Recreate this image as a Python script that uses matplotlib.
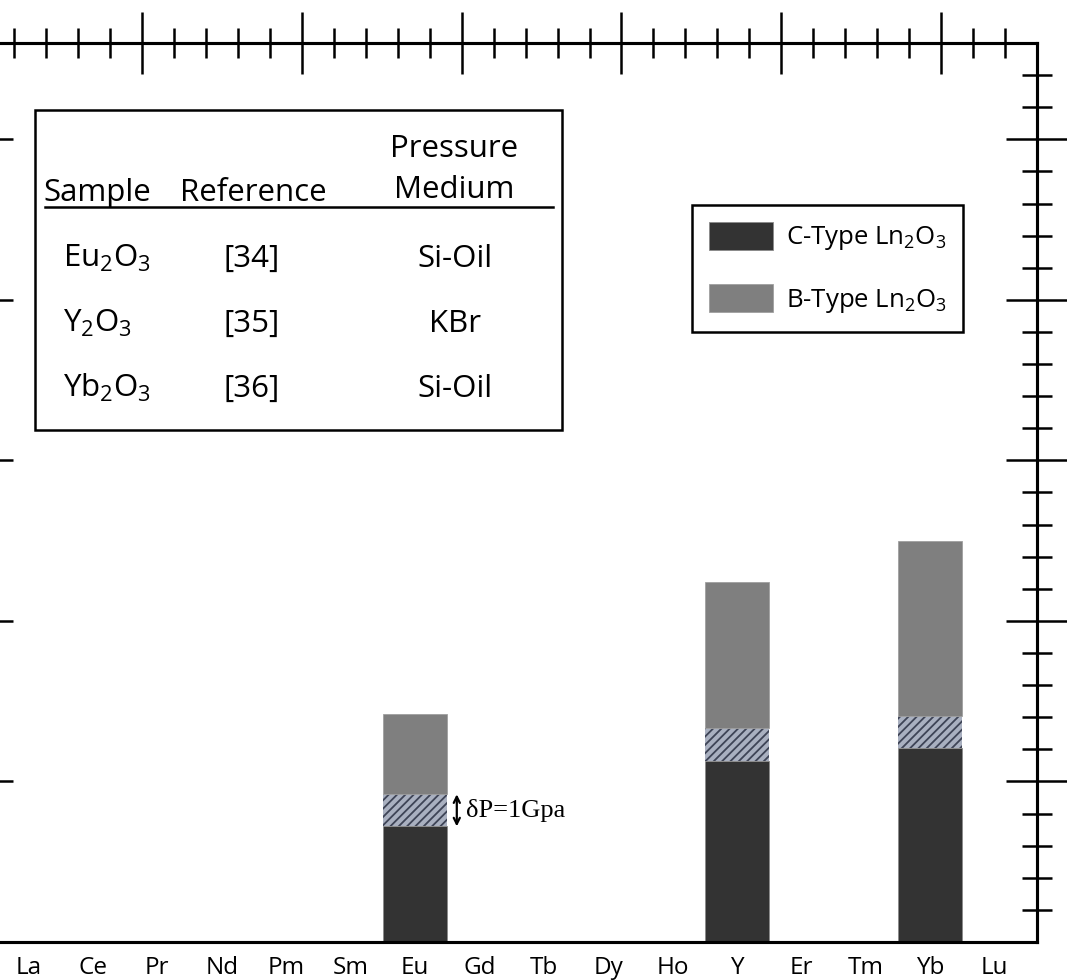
import matplotlib
matplotlib.use("Agg")
import matplotlib.pyplot as plt
import numpy as np
from matplotlib.ticker import FixedLocator
from matplotlib.patches import Rectangle
from matplotlib.lines import Line2D

plt.rcParams['font.family'] = ['Open Sans', 'DejaVu Sans']
plt.rcParams['mathtext.fontset'] = 'custom'
plt.rcParams['mathtext.rm'] = 'Open Sans'
plt.rcParams['mathtext.it'] = 'Open Sans:italic'
plt.rcParams['mathtext.bf'] = 'Open Sans:bold'
plt.rcParams['hatch.linewidth'] = 1.3

# ---------------- data ----------------
elements = ['La', 'Ce', 'Pr', 'Nd', 'Pm', 'Sm', 'Eu', 'Gd', 'Tb', 'Dy',
            'Ho', 'Y', 'Er', 'Tm', 'Yb', 'Lu']
samples = ['Eu', 'Y', 'Yb']
c_type_top = [3.6, 5.65, 6.05]      # GPa, top of C-type region
transition = [1.0, 1.0, 1.0]        # GPa, uncertainty band (dP = 1 GPa)
b_type_top = [7.1, 11.2, 12.5]      # GPa, top of B-type region

table_samples = ['Eu$_2$O$_3$', 'Y$_2$O$_3$', 'Yb$_2$O$_3$']
table_refs = ['[34]', '[35]', '[36]']
table_media = ['Si-Oil', 'KBr', 'Si-Oil']

# ---------------- figure ----------------
W, H = 1067, 980
fig = plt.figure(figsize=(W / 100, H / 100), dpi=100)

def fx(x):
    return x / W

def fy(y):
    return 1 - y / H

ax = fig.add_axes([fx(-17.8), fy(942), (1037 + 17.8) / W, (942 - 43) / H])

idx = np.array([elements.index(s) for s in samples])
c_top = np.array(c_type_top)
dp = np.array(transition)
b_top = np.array(b_type_top)

dark = '#333333'
gray = '#7f7f7f'
bars_c = ax.bar(idx, c_top, width=0.99, color=dark, edgecolor='#8a8a8a',
                linewidth=0.6, zorder=2)
ax.bar(idx, dp, bottom=c_top, width=0.99, facecolor='#a9b0c0',
       edgecolor='#3e4456', hatch='////', linewidth=0, zorder=2)
bars_b = ax.bar(idx, b_top - c_top - dp, bottom=c_top + dp, width=0.99,
                color=gray, edgecolor='#a0a0a0', linewidth=0.6, zorder=2)

ax.set_xlim(-0.72, 15.66)
ax.set_ylim(0, 28)

# bottom category labels
ax.set_xticks(range(len(elements)))
ax.set_xticklabels(elements, fontsize=17.5)
ax.tick_params(axis='x', which='both', length=0, pad=10)

# y ticks (no labels), in/out on both sides
ax.yaxis.set_major_locator(FixedLocator([5, 10, 15, 20, 25]))
ax.yaxis.set_minor_locator(FixedLocator([v for v in range(1, 28) if v % 5]))
ax.tick_params(axis='y', which='both', direction='inout', left=True,
               right=True, labelleft=False, labelright=False)
ax.tick_params(axis='y', which='major', length=44, width=1.8)
ax.tick_params(axis='y', which='minor', length=22, width=1.8)

for s in ax.spines.values():
    s.set_linewidth(2.2)

# top secondary axis with ticks only
ax2 = ax.twiny()
ax2.set_xlim(0, 33)
ax2.xaxis.set_major_locator(FixedLocator([5, 10, 15, 20, 25, 30]))
ax2.xaxis.set_minor_locator(FixedLocator([v for v in range(1, 33) if v % 5]))
ax2.tick_params(axis='x', which='both', direction='inout', top=True,
                bottom=False, labeltop=False, labelbottom=False)
ax2.tick_params(axis='x', which='major', length=44, width=1.8)
ax2.tick_params(axis='x', which='minor', length=22, width=1.8)
for s in ax2.spines.values():
    s.set_linewidth(2.2)

# dP arrow and text next to the Eu bar
eu = elements.index('Eu')
ax.annotate('', xy=(eu + 0.65, c_top[0] + dp[0]), xytext=(eu + 0.65, c_top[0]),
            arrowprops=dict(arrowstyle='<->', lw=1.6, color='black',
                            shrinkA=0, shrinkB=0, mutation_scale=11))
ax.text(eu + 0.8, c_top[0] + dp[0] * 0.5, 'δP=1Gpa', ha='left', va='center',
        fontsize=19, family='Liberation Serif')

# legend
leg = ax.legend([bars_c, bars_b],
                ['C-Type Ln$_2$O$_3$', 'B-Type Ln$_2$O$_3$'],
                loc='upper left', bbox_to_anchor=(fx(692), fy(205)),
                bbox_transform=fig.transFigure, frameon=True, fancybox=False,
                edgecolor='black', framealpha=1, fontsize=18.5,
                handlelength=2.5, handleheight=1.3, handletextpad=0.5,
                borderpad=0.65, labelspacing=1.25, borderaxespad=0)
leg.get_frame().set_linewidth(1.8)

# table box
fig.add_artist(Rectangle((fx(35), fy(430)), (562 - 35) / W, (430 - 110) / H,
                         transform=fig.transFigure, fill=False,
                         edgecolor='black', linewidth=1.8))
fig.add_artist(Line2D([fx(45), fx(553)], [fy(207), fy(207)],
                      transform=fig.transFigure, color='black', linewidth=1.8))
tfs = 22.5
fig.text(fx(43), fy(201), 'Sample', ha='left', va='baseline', fontsize=tfs)
fig.text(fx(253), fy(201), 'Reference', ha='center', va='baseline', fontsize=tfs)
fig.text(fx(454), fy(157), 'Pressure', ha='center', va='baseline', fontsize=tfs)
fig.text(fx(454), fy(198), 'Medium', ha='center', va='baseline', fontsize=tfs)
row_base = [267, 332, 397]
for s, r, m, yb in zip(table_samples, table_refs, table_media, row_base):
    fig.text(fx(63), fy(yb), s, ha='left', va='baseline', fontsize=tfs)
    fig.text(fx(252), fy(yb), r, ha='center', va='baseline', fontsize=tfs)
    fig.text(fx(455), fy(yb), m, ha='center', va='baseline', fontsize=tfs)

fig.savefig('out.png', dpi=100)
